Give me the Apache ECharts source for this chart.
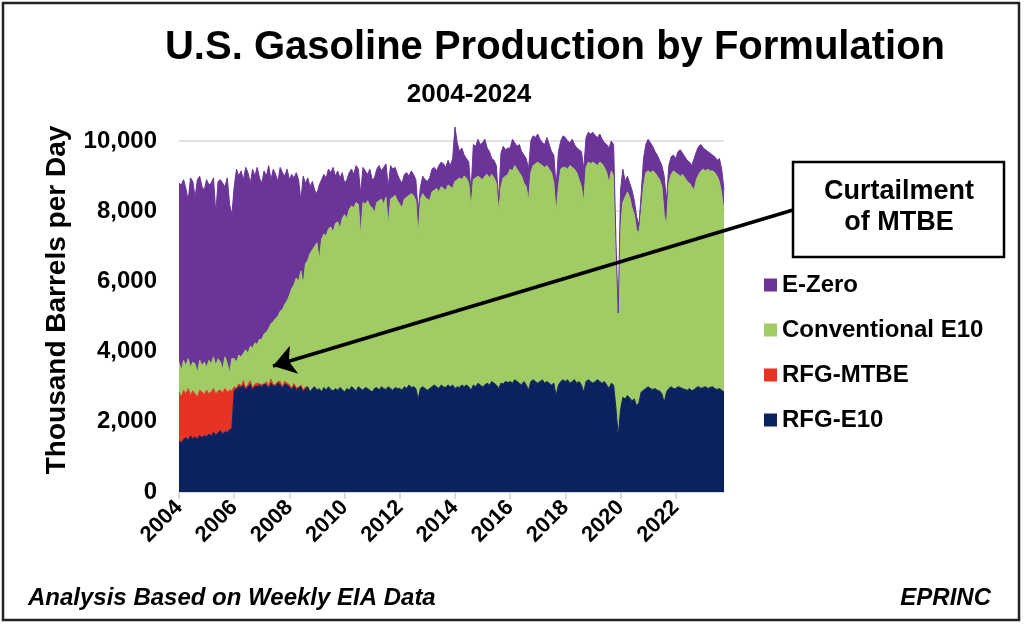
<!DOCTYPE html>
<html>
<head>
<meta charset="utf-8">
<title>U.S. Gasoline Production by Formulation</title>
<script src="https://cdn.jsdelivr.net/npm/echarts@6/dist/echarts.min.js"></script>
<style>
  html, body { margin: 0; padding: 0; background: #fff; }
  #chart { width: 1024px; height: 626px; }
</style>
</head>
<body>
<div id="chart"></div>
<script>
// values, one point per month (thousand b/d)
var years = [2004, 2005, 2006, 2007, 2008, 2009, 2010, 2011, 2012, 2013,
             2014, 2015, 2016, 2017, 2018, 2019, 2020, 2021, 2022, 2023];
var lastMonth = 10; // series run out in Oct 2023

var months = [];
years.forEach(function (y) {
  for (var m = 1; m <= 12; m++) {
    if (y === 2023 && m > lastMonth) break;
    months.push(y + "-" + (m < 10 ? "0" + m : m));
  }
});

var rfgE10 = [
  1450, 1400, 1500, 1550, 1480, 1600, 1520, 1580, 1500, 1620, 1550, 1600, // 2004
  1580, 1650, 1600, 1700, 1620, 1680, 1750, 1650, 1720, 1700, 1780, 1800, // 2005
  2900, 2950, 3000, 2980, 3050, 2950, 3000, 3080, 2950, 3020, 3000, 3050, // 2006
  3000, 3080, 3050, 2980, 3100, 3050, 3000, 3120, 3050, 3000, 3080, 3050, // 2007
  3000, 2950, 3050, 2900, 2980, 3020, 2900, 2950, 3000, 2850, 2950, 3000, // 2008
  2900, 2950, 2850, 2980, 2900, 3000, 2920, 2880, 2950, 2900, 2980, 2920, // 2009
  2850, 2950, 2900, 3000, 2950, 2880, 3000, 2950, 2900, 2980, 2950, 2900, // 2010
  2850, 2950, 2980, 2900, 3000, 2950, 2920, 3000, 2950, 2900, 2980, 2950, // 2011
  2950, 2900, 3000, 2950, 3050, 2980, 3000, 2950, 2650, 2950, 3000, 2950, // 2012
  2900, 2950, 3000, 3050, 3000, 2950, 3050, 3000, 2980, 3050, 3000, 3050, // 2013
  2950, 3000, 2980, 3050, 3000, 3050, 3000, 2900, 3050, 3000, 3100, 3050, // 2014
  3000, 3050, 3100, 3050, 3150, 3100, 3050, 2950, 3100, 3080, 3150, 3120, // 2015
  3150, 3100, 3200, 3150, 3100, 3050, 3150, 3050, 2900, 3150, 3200, 3150, // 2016
  3100, 3150, 3200, 3100, 3150, 3100, 3050, 3100, 2750, 3050, 3150, 3200, // 2017
  3150, 3200, 3100, 3150, 3200, 3100, 3150, 3050, 2850, 3150, 3200, 3150, // 2018
  3100, 3150, 3200, 3150, 3100, 3150, 3050, 2950, 3100, 3050, 2400, 1600, // 2019
  2350, 2700, 2650, 2750, 2680, 2600, 2650, 2450, 2550, 2850, 2900, 2950, // 2020
  3000, 2950, 2920, 2950, 2900, 2880, 2800, 2550, 2850, 2950, 3000, 2950, // 2021
  2950, 3000, 2980, 2950, 2920, 2900, 2950, 2880, 2920, 2980, 3000, 2950, // 2022
  2980, 3000, 2950, 2980, 3000, 2950, 2920, 2950, 2900, 2850              // 2023
];

// MTBE blending ends in 2008, nothing after that
var rfgMtbe = [
  1400, 1300, 1400, 1250, 1470, 1150, 1360, 1220, 1200, 1280, 1300, 1180, // 2004
  1320, 1150, 1250, 1250, 1160, 1200, 1150, 1170, 1230, 1150, 1120, 1080, // 2005
  100, 0, 80, 40, 120, 0, 60, 90, 0, 50, 100, 30,                         // 2006
  60, 0, 90, 40, 120, 0, 70, 30, 100, 0, 80, 50,                          // 2007
  60, 0, 40, 70, 0, 30, 0, 40, 0                                          // 2008
];

var conventionalE10 = [
  850, 750, 850, 800, 850, 800, 820, 850, 700, 850, 750, 920,             // 2004
  650, 950, 800, 900, 820, 920, 800, 680, 900, 800, 500, 920,             // 2005
  800, 750, 820, 830, 780, 1100, 890, 980, 1150, 1180, 1100, 1270,        // 2006
  1290, 1420, 1410, 1630, 1580, 1800, 1880, 1850, 2000, 2200, 2190, 2350, // 2007
  2540, 2850, 2810, 3130, 3020, 3250, 3000, 3510, 3600, 3950, 3950, 4000, // 2008
  4200, 3650, 4350, 4370, 4400, 4500, 4630, 4520, 4700, 4800, 4520, 4880, // 2009
  5050, 4850, 5150, 5150, 5150, 5370, 5200, 4350, 5350, 5220, 5350, 5250, // 2010
  5250, 5000, 5270, 5400, 5350, 5250, 5480, 4600, 5400, 5500, 5470, 5350, // 2011
  5250, 5200, 5350, 5450, 5400, 5520, 5450, 5350, 4650, 5400, 5500, 5450, // 2012
  5450, 5350, 5550, 5550, 5650, 5600, 5650, 5650, 5620, 5700, 5700, 5600, // 2013
  5900, 5900, 5970, 5850, 6000, 5900, 5800, 5200, 5850, 5950, 5900, 5900, // 2014
  5900, 5950, 5950, 5900, 5900, 5850, 5750, 5050, 5600, 5870, 5850, 5930, // 2015
  6050, 6050, 6100, 6050, 6000, 5950, 5650, 5650, 5400, 5950, 6100, 6200, // 2016
  6300, 6200, 6100, 6150, 6150, 6100, 6050, 5700, 5200, 5650, 6050, 6050, // 2017
  6100, 6000, 6200, 6100, 6000, 6000, 5750, 5650, 5400, 6100, 6200, 6200, // 2018
  6300, 6200, 6100, 6250, 6250, 6100, 6050, 5850, 6050, 5950, 4100, 3400, // 2019
  5150, 5550, 5750, 5800, 5720, 5500, 5250, 5000, 4850, 5150, 5800, 6150, // 2020
  6150, 6150, 6230, 6150, 6100, 6020, 5900, 5350, 4750, 5850, 6050, 6200, // 2021
  6150, 6050, 6020, 6100, 6030, 5950, 5850, 5820, 5680, 5920, 6050, 6200, // 2022
  6220, 6150, 6250, 6170, 6150, 6150, 6080, 5900, 5600, 5140              // 2023
];

var eZero = [
  5100, 5300, 5150, 5050, 4500, 5400, 5150, 4750, 5500, 5250, 5100, 4900, // 2004
  5350, 5000, 5150, 5100, 4350, 5050, 5200, 5300, 4850, 5300, 4800, 4100, // 2005
  4900, 5500, 5100, 5300, 4950, 5200, 5150, 4650, 5100, 4750, 5050, 4600, // 2006
  4450, 4650, 4450, 4650, 4100, 4350, 4100, 3850, 4100, 3900, 3650, 3750, // 2007
  3300, 3250, 3050, 3000, 2900, 2000, 3100, 2300, 2350, 1900, 1950, 1600, // 2008
  1400, 2150, 1700, 1700, 1650, 1700, 1550, 1850, 1350, 1450, 1450, 1300, // 2009
  900, 1100, 1050, 1050, 950, 1050, 1000, 1200, 1000, 950, 750, 1050,     // 2010
  800, 1000, 950, 1000, 800, 1050, 950, 1100, 950, 800, 800, 750,         // 2011
  700, 700, 700, 700, 550, 650, 600, 600, 700, 350, 500, 500,             // 2012
  500, 650, 650, 650, 500, 750, 700, 700, 650, 700, 600, 850,             // 2013
  1550, 1050, 750, 900, 600, 550, 600, 450, 1000, 900, 1050, 950,         // 2014
  1050, 1050, 750, 750, 450, 500, 500, 300, 950, 900, 750, 750,           // 2015
  600, 900, 650, 650, 800, 700, 800, 800, 900, 900, 850, 750,             // 2016
  800, 700, 650, 650, 800, 700, 600, 800, 750, 1000, 800, 900,            // 2017
  850, 800, 650, 800, 700, 700, 850, 1000, 950, 850, 850, 850,            // 2018
  850, 800, 800, 800, 700, 700, 800, 1000, 850, 900, 700, 100,            // 2019
  1100, 950, 450, 450, 400, 500, 400, 400, 200, 500, 800, 800,            // 2020
  900, 850, 700, 600, 600, 550, 600, 1100, 700, 500, 500, 450,            // 2021
  400, 650, 750, 600, 600, 600, 600, 600, 900, 800, 800, 750,             // 2022
  600, 600, 500, 500, 450, 450, 450, 650, 700, 610                        // 2023
];

var legendOrder = ["E-Zero", "Conventional E10", "RFG-MTBE", "RFG-E10"];

var FONT = '"Liberation Sans", Arial, sans-serif';
var NAVY = "#0b2160", RED = "#e63323", GREEN = "#a1cc65", PURPLE = "#6b3499";

// label only January of even years
function evenJanuary(index, value) {
  return value.slice(5) === "01" && Number(value.slice(0, 4)) % 2 === 0;
}

function area(name, data, color, lineWidth) {
  return {
    name: name,
    type: "line",
    stack: "total",
    data: data,
    symbol: "none",
    showSymbol: false,
    lineStyle: { width: lineWidth, color: color },
    areaStyle: { color: color, opacity: 1 },
    itemStyle: { color: color },
    emphasis: { disabled: true },
  };
}

var chart = echarts.init(document.getElementById("chart"));

var eZeroSeries = area("E-Zero", eZero, PURPLE, 1);
// the call-out arrow
eZeroSeries.markLine = {
  silent: true,
  symbol: ["none", "arrow"],
  symbolSize: 22,
  label: { show: false },
  lineStyle: { color: "#000", width: 3.5, type: "solid" },
  data: [[{ x: 793, y: 210 }, { x: 273, y: 366 }]],
};

var option = {
  animation: false,
  backgroundColor: "#fff",
  textStyle: { fontFamily: FONT },
  grid: { left: 179, right: 300, top: 120, bottom: 134 },
  legend: {
    data: legendOrder,
    orient: "vertical",
    left: 759,
    top: 268,
    icon: "rect",
    itemWidth: 13,
    itemHeight: 13,
    itemGap: 21,
    selectedMode: false,
    textStyle: { fontSize: 24, fontWeight: "bold", color: "#000", lineHeight: 24, fontFamily: FONT },
  },
  xAxis: {
    type: "category",
    data: months,
    boundaryGap: false,
    axisLine: { lineStyle: { color: "#d0d0d0", width: 1.5 } },
    axisTick: { interval: evenJanuary, length: 7, lineStyle: { color: "#d0d0d0", width: 1.5 } },
    axisLabel: {
      interval: evenJanuary,
      formatter: function (v) { return v.slice(0, 4); },
      rotate: 45,
      margin: 12,
      fontSize: 22,
      fontWeight: "bold",
      color: "#000",
      fontFamily: FONT,
    },
    splitLine: { show: false },
  },
  yAxis: {
    type: "value",
    min: 0,
    max: 10600,
    interval: 2000,
    axisLine: { show: false },
    axisTick: { show: false },
    axisLabel: {
      showMaxLabel: false,
      formatter: function (v) { return v.toLocaleString("en-US"); },
      fontSize: 24,
      fontWeight: "bold",
      color: "#000",
      margin: 22,
      fontFamily: FONT,
    },
    splitLine: { showMaxLine: false, lineStyle: { color: "#d9d9d9", width: 1.5 } },
  },
  series: [
    area("RFG-E10", rfgE10, NAVY, 1),
    area("RFG-MTBE", rfgMtbe, RED, 1),
    area("Conventional E10", conventionalE10, GREEN, 1),
    eZeroSeries,
  ],
  graphic: [
    {
      type: "rect",
      shape: { x: 3, y: 3, width: 1016, height: 617 },
      style: { fill: "none", stroke: "#222", lineWidth: 2.5 },
      silent: true,
    },
    {
      type: "text", x: 555, y: 48,
      style: { text: "U.S. Gasoline Production by Formulation", font: "bold 40px " + FONT, fill: "#000", textAlign: "center", textVerticalAlign: "middle" },
    },
    {
      type: "text", x: 469, y: 95,
      style: { text: "2004-2024", font: "bold 26px " + FONT, fill: "#000", textAlign: "center", textVerticalAlign: "middle" },
    },
    {
      type: "text", x: 57, y: 300, rotation: Math.PI / 2,
      style: { text: "Thousand Barrels per Day", font: "bold 28px " + FONT, fill: "#000", textAlign: "center", textVerticalAlign: "middle" },
    },
    {
      type: "rect", z: 10,
      shape: { x: 793, y: 162, width: 211, height: 95 },
      style: { fill: "#fff", stroke: "#000", lineWidth: 2.5 },
    },
    {
      type: "text", x: 899, y: 192, z: 11,
      style: { text: "Curtailment", font: "bold 27px " + FONT, fill: "#000", textAlign: "center", textVerticalAlign: "middle" },
    },
    {
      type: "text", x: 899, y: 223, z: 11,
      style: { text: "of MTBE", font: "bold 27px " + FONT, fill: "#000", textAlign: "center", textVerticalAlign: "middle" },
    },
    {
      type: "text", x: 28, y: 598,
      style: { text: "Analysis Based on Weekly EIA Data", font: "italic bold 24px " + FONT, fill: "#000", textAlign: "left", textVerticalAlign: "middle" },
    },
    {
      type: "text", x: 991, y: 598,
      style: { text: "EPRINC", font: "italic bold 24px " + FONT, fill: "#000", textAlign: "right", textVerticalAlign: "middle" },
    },
  ],
};

chart.setOption(option);
</script>
</body>
</html>
